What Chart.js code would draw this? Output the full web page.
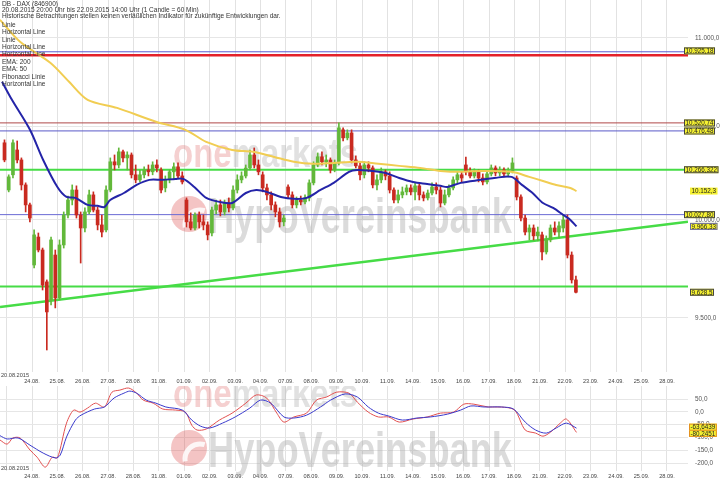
<!DOCTYPE html>
<html>
<head>
<meta charset="utf-8">
<script src="https://cdn.jsdelivr.net/npm/chart.js@4.4.0/dist/chart.umd.min.js"></script>
<style>
  body { margin: 0; background: #fff; }
  #wrap { position: relative; width: 720px; height: 481px; overflow: hidden; background: #fff; }
  #price { position: absolute; left: 0; top: 0; }
  #osc { position: absolute; left: 0; top: 386px; }
</style>
</head>
<body>
<div id="wrap">
  <canvas id="price" width="720" height="386"></canvas>
  <canvas id="osc" width="720" height="95"></canvas>
</div>
<script>
// trading days on the x axis, 24.08. sits at x = 0
const dayLabels = ['20.08.', '21.08.', '24.08.', '25.08.', '26.08.', '27.08.', '28.08.', '31.08.',
  '01.09.', '02.09.', '03.09.', '04.09.', '07.09.', '08.09.', '09.09.', '10.09.', '11.09.',
  '14.09.', '15.09.', '16.09.', '17.09.', '18.09.', '21.09.', '22.09.', '23.09.', '24.09.',
  '25.09.', '28.09.'];
const dayOffset = 2;
const slotsPerDay = 6;

// candles, one row per day (20.08. only has the evening candle)
const opens = [
  [null, null, null, null, null, 10412],
  [10158, 10239, 10373, 10319, 10185, 10079],
  [9767, 9911, 9844, 9681, 9590, 9818],
  [9600, 9870, 10026, 10105, 10158, 10026],
  [9958, 10042, 10132, 10052, 9974, 9948],
  [10158, 10309, 10292, 10363, 10330, 10346],
  [10239, 10212, 10239, 10265, 10255, 10292],
  [10265, 10169, 10212, 10255, 10282, 10233],
  [10105, 9990, 9958, 10026, 9990, 9974],
  [9932, 10052, 10079, 10042, 10089, 10063],
  [10158, 10212, 10233, 10276, 10346, 10292],
  [10239, 10169, 10132, 10079, 10042, 9990],
  [10174, 10132, 10079, 10105, 10095, 10116],
  [10196, 10292, 10336, 10309, 10319, 10265],
  [10303, 10483, 10439, 10466, 10319, 10287],
  [10239, 10292, 10276, 10185, 10212, 10255],
  [10233, 10158, 10105, 10132, 10148, 10169],
  [10148, 10180, 10132, 10116, 10142, 10174],
  [10158, 10089, 10132, 10169, 10212, 10239],
  [10292, 10255, 10233, 10255, 10222, 10201],
  [10244, 10276, 10249, 10265, 10244, 10260],
  [10222, 10121, 10010, 9937, 9958, 9917],
  [9922, 9834, 9896, 9958, 9937, 9958],
  [10000, 9818, 9691]
];
const highs = [
  [null, null, null, null, null, 10428],
  [10239, 10428, 10422, 10330, 10196, 10089],
  [9948, 9932, 9854, 9691, 9911, 9844],
  [9896, 10042, 10126, 10185, 10180, 10042],
  [10063, 10158, 10148, 10068, 10026, 10180],
  [10330, 10346, 10384, 10373, 10363, 10357],
  [10292, 10265, 10282, 10292, 10309, 10319],
  [10276, 10233, 10265, 10303, 10303, 10255],
  [10116, 10037, 10037, 10042, 10026, 9990],
  [10068, 10105, 10105, 10105, 10116, 10180],
  [10239, 10255, 10292, 10373, 10384, 10319],
  [10255, 10190, 10148, 10095, 10063, 10026],
  [10185, 10148, 10121, 10126, 10132, 10212],
  [10309, 10357, 10363, 10346, 10330, 10319],
  [10521, 10494, 10483, 10483, 10341, 10303],
  [10309, 10309, 10287, 10239, 10276, 10265],
  [10255, 10169, 10158, 10174, 10185, 10185],
  [10196, 10190, 10148, 10158, 10196, 10196],
  [10174, 10158, 10185, 10228, 10255, 10255],
  [10335, 10276, 10271, 10265, 10244, 10265],
  [10292, 10287, 10282, 10276, 10276, 10330],
  [10233, 10132, 10026, 9974, 9974, 9963],
  [9937, 9917, 9974, 9990, 9990, 10026],
  [10026, 9834, 9711]
];
const lows = [
  [null, null, null, null, null, 10309],
  [10148, 10222, 10303, 10158, 10042, 9990],
  [9752, 9834, 9640, 9342, 9565, 9550],
  [9590, 9854, 10010, 10079, 10010, 9777],
  [9937, 10031, 10042, 9948, 9911, 9937],
  [10148, 10265, 10276, 10309, 10265, 10222],
  [10196, 10201, 10222, 10233, 10239, 10255],
  [10142, 10148, 10196, 10217, 10222, 10190],
  [9963, 9948, 9948, 9958, 9948, 9896],
  [9917, 10031, 10021, 10026, 10042, 10052],
  [10142, 10196, 10222, 10265, 10276, 10239],
  [10148, 10105, 10052, 10016, 9963, 9969],
  [10116, 10063, 10063, 10079, 10084, 10100],
  [10185, 10282, 10292, 10282, 10249, 10255],
  [10292, 10422, 10428, 10303, 10276, 10212],
  [10222, 10255, 10169, 10158, 10196, 10212],
  [10142, 10089, 10089, 10116, 10132, 10132],
  [10105, 10105, 10100, 10105, 10132, 10137],
  [10068, 10079, 10121, 10158, 10196, 10201],
  [10239, 10222, 10222, 10201, 10185, 10190],
  [10233, 10233, 10233, 10228, 10228, 10249],
  [10105, 9995, 9922, 9896, 9896, 9891],
  [9793, 9823, 9886, 9922, 9906, 9937],
  [9803, 9675, 9625]
];
const closes = [
  [null, null, null, null, null, 10319],
  [10228, 10412, 10319, 10185, 10079, 10010],
  [9922, 9844, 9665, 9530, 9896, 9600],
  [9870, 10026, 10105, 10158, 10026, 9958],
  [10042, 10132, 10052, 9974, 9937, 10158],
  [10309, 10292, 10363, 10330, 10346, 10239],
  [10212, 10239, 10265, 10255, 10292, 10276],
  [10158, 10212, 10255, 10282, 10233, 10201],
  [9990, 9958, 10026, 9990, 9974, 9922],
  [10052, 10079, 10042, 10089, 10063, 10158],
  [10212, 10233, 10276, 10346, 10292, 10255],
  [10169, 10132, 10079, 10042, 9990, 10010],
  [10132, 10079, 10105, 10095, 10116, 10196],
  [10292, 10336, 10309, 10319, 10265, 10303],
  [10494, 10439, 10466, 10319, 10287, 10239],
  [10292, 10276, 10185, 10212, 10255, 10233],
  [10158, 10105, 10132, 10148, 10169, 10148],
  [10180, 10132, 10116, 10142, 10174, 10158],
  [10089, 10132, 10169, 10212, 10239, 10222],
  [10255, 10233, 10255, 10222, 10201, 10244],
  [10276, 10249, 10265, 10244, 10260, 10303],
  [10121, 10010, 9937, 9958, 9917, 9937],
  [9834, 9896, 9958, 9937, 9969, 10000],
  [9818, 9691, 9628.5]
];

// EMA 50 / EMA 200, x in trading days
const ema50X = [-1.18, -0.79, -0.08, 0.44, 1.0, 1.36, 1.71, 2.19, 2.58, 2.85, 3.08, 3.62, 4.12, 4.62,
  5.15, 5.65, 5.96, 6.39, 6.86, 7.38, 7.88, 8.42, 8.83, 9.24, 9.8, 10.31, 10.81, 11.36, 11.88,
  12.48, 12.81, 13.36, 13.92, 14.46, 15.0, 15.56, 16.08, 16.36, 16.88, 17.68, 18.2, 18.88, 19.29,
  19.71, 20.12, 20.52, 20.92, 21.2, 21.44];
const ema50 = [10750, 10649, 10483, 10319, 10174, 10121, 10116, 10079, 10074, 10068, 10105, 10142,
  10185, 10212, 10212, 10217, 10217, 10174, 10116, 10095, 10089, 10142, 10158, 10148, 10121, 10111,
  10116, 10158, 10196, 10255, 10265, 10260, 10249, 10222, 10201, 10190, 10180, 10174, 10196, 10212,
  10222, 10228, 10185, 10142, 10089, 10063, 10026, 10000, 9966.33];
const ema200X = [-1.26, -0.47, 0.72, 1.46, 2.19, 3.35, 4.88, 6.04, 6.86, 7.88, 8.71, 9.54, 10.31,
  11.08, 11.88, 12.81, 13.64, 14.46, 15.29, 16.08, 16.88, 17.68, 18.88, 19.58, 20.12, 20.64, 21.2, 21.44];
const ema200 = [11104, 10977, 10857, 10750, 10649, 10604, 10527, 10483, 10417, 10373, 10363, 10335,
  10309, 10298, 10303, 10309, 10298, 10287, 10276, 10260, 10255, 10260, 10255, 10228, 10206, 10185,
  10169, 10152.3];

// drawn lines
const hLineValues = [10920, 10900, 10521, 10477, 10266.32, 10027.8, 9658];
const trendY = [9555, 9990];

// value tags on the right
const tagValues = [10925.18, 10520.74, 10476.48, 10266.322, 10152.3, 10027.80, 9966.33, 9628.5];
const tagDecimals = [2, 2, 2, 3, 1, 2, 2, 1];

// oscillator panel
const oscBlueX = [-1.26, -0.98, -0.55, -0.08, 0.44, 0.92, 1.11, 1.36, 1.71, 1.93, 2.46, 2.85, 3.23,
  3.62, 3.85, 4.12, 4.5, 4.88, 5.27, 5.92, 6.29, 6.64, 7.0, 7.5, 8.0, 8.58, 9.0, 9.4, 9.92, 10.31,
  10.81, 11.36, 11.76, 12.33, 12.81, 13.24, 13.64, 14.04, 14.58, 15.16, 15.68, 16.36, 16.88, 17.28,
  17.8, 18.48, 18.96, 19.42, 19.83, 20.25, 20.64, 21.04, 21.44];
const oscBlue = [-93, -106, -102, -130, -161, -180, -169, -98, -32, -13, 11, 19, 54, 73, 81, 73, 46,
  34, 19, 7, -32, -56, -63, -44, -20, 15, 46, 34, -20, -24, -13, 19, 46, 70, 58, 19, -5, -16, -32,
  -24, -20, -9, 7, 23, 19, 19, 11, -40, -71, -83, -63, -44, -63.6439];
const oscRedX = [-1.26, -0.98, -0.75, -0.47, -0.08, 0.2, 0.52, 0.8, 1.0, 1.36, 1.64, 1.89, 2.19, 2.5,
  2.85, 3.15, 3.46, 3.81, 4.12, 4.38, 4.77, 5.15, 5.65, 6.04, 6.29, 6.5, 6.86, 7.38, 7.88, 8.42, 8.83,
  9.24, 9.64, 9.92, 10.31, 10.81, 11.2, 11.6, 12.0, 12.48, 12.81, 13.24, 13.64, 14.04, 14.46, 15.0,
  15.56, 16.08, 16.6, 17.0, 17.4, 17.96, 18.48, 19.0, 19.42, 19.83, 20.12, 20.42, 20.8, 21.04, 21.44];
const oscRed = [-110, -126, -102, -102, -149, -177, -216, -177, -180, -44, 7, -1, 15, 34, 19, 77, 85,
  93, 73, 46, 34, 11, 7, -1, -52, -71, -67, -32, -5, 34, 66, 54, -5, -40, -20, -5, 46, 58, 77, 73,
  38, -1, -20, -20, -40, -28, -20, -5, -1, 30, 30, 19, 19, 7, -71, -83, -95, -79, -44, -28, -80.2451];

const priceTicks = [9500, 10000, 10500, 11000];
const oscTicks = [50, 0, -50, -100, -150, -200];

const legendLines = ['DB - DAX (846900)',
  '20.08.2015 20:00 Uhr bis 22.09.2015 14:00 Uhr (1 Candle = 60 Min)',
  'Historische Betrachtungen stellen keinen verläßlichen Indikator für zukünftige Entwicklungen dar.',
  'Linie', 'Horizontal Line', 'Linie', 'Horizontal Line', 'Horizontal Line', 'EMA: 200', 'EMA: 50',
  'Fibonacci Linie', 'Horizontal Line'];

const xMin = -1.26, xMax = 25.83;
const FONT = '"Liberation Sans", Arial, sans-serif';
Chart.defaults.font.family = FONT;

function deNum(v, d) {
  const parts = Math.abs(v).toFixed(d).split('.');
  const intPart = parts[0].replace(/\B(?=(\d{3})+(?!\d))/g, '.');
  return (v < 0 ? '-' : '') + intPart + (d > 0 ? ',' + parts[1] : '');
}

function points(xs, ys) {
  return xs.map((x, i) => ({ x: x, y: ys[i] }));
}

const wickData = [], bodyData = [], candleColors = [];
for (let r = 0; r < opens.length; r++) {
  for (let j = 0; j < opens[r].length; j++) {
    if (opens[r][j] === null) continue;
    const x = r - dayOffset + (j + 0.5) / slotsPerDay;
    wickData.push({ x: x, y: [lows[r][j], highs[r][j]] });
    bodyData.push({ x: x, y: [opens[r][j], closes[r][j]] });
    candleColors.push(closes[r][j] >= opens[r][j] ? '#62b83a' : '#c92a20');
  }
}

const dayTicks = dayLabels.map((l, i) => i - dayOffset).filter(v => v >= -1);

function lineDs(data, color, width, order, tension) {
  return { type: 'line', data: data, borderColor: color, borderWidth: width, pointRadius: 0,
    fill: false, tension: tension || 0, order: order };
}

function xAxis(pad, height) {
  return {
    type: 'linear', min: xMin, max: xMax, offset: false, bounds: 'data',
    grid: { color: '#e2e2e2', drawTicks: false, offset: false },
    border: { display: false },
    afterBuildTicks: s => { s.ticks = dayTicks.map(v => ({ value: v })); },
    afterFit: s => { s.height = height; s.paddingLeft = 0; s.paddingRight = 0; },
    ticks: { autoSkip: false, maxRotation: 0, padding: pad, color: '#444', font: { size: 5.6 },
      callback: v => (v < 0 ? '' : dayLabels[v + dayOffset]) }
  };
}

function yAxis(type, min, max, tickList) {
  return {
    type: type, position: 'right', min: min, max: max, bounds: 'data',
    grid: { color: '#e6e6e6', drawTicks: false },
    border: { display: false },
    afterBuildTicks: s => { s.ticks = tickList.map(v => ({ value: v })); },
    afterFit: s => { s.width = 32; s.paddingTop = 0; s.paddingBottom = 0; },
    ticks: { padding: 7, color: '#555', font: { size: 6.4 }, callback: v => deNum(v, 1) }
  };
}

function drawWatermark(ctx, oneBase, hypoBase) {
  ctx.save();
  ctx.textBaseline = 'alphabetic';
  ctx.textAlign = 'left';
  ctx.font = 'bold 40px ' + FONT;
  const wOne = ctx.measureText('one').width;
  const wAll = ctx.measureText('onemarkets').width;
  ctx.translate(173, oneBase);
  ctx.scale(185 / wAll, 1);
  ctx.fillStyle = 'rgba(226,120,120,0.35)';
  ctx.fillText('one', 0, 0);
  ctx.fillStyle = 'rgba(170,170,170,0.35)';
  ctx.fillText('markets', wOne, 0);
  ctx.restore();

  ctx.save();
  ctx.font = 'bold 50px ' + FONT;
  const wHypo = ctx.measureText('HypoVereinsbank').width;
  ctx.translate(208, hypoBase);
  ctx.scale(304 / wHypo, 1);
  ctx.fillStyle = 'rgba(165,165,165,0.4)';
  ctx.fillText('HypoVereinsbank', 0, 0);
  ctx.restore();

  ctx.save();
  ctx.fillStyle = 'rgba(220,70,70,0.32)';
  ctx.beginPath();
  ctx.arc(189, hypoBase - 19, 18, 0, Math.PI * 2);
  ctx.fill();
  ctx.strokeStyle = 'rgba(255,255,255,0.85)';
  ctx.lineWidth = 5;
  ctx.beginPath();
  ctx.arc(200, hypoBase - 8, 15, Math.PI * 0.95, Math.PI * 1.6);
  ctx.stroke();
  ctx.restore();
}

function drawTag(ctx, text, y, left, border) {
  ctx.save();
  ctx.font = '6.3px ' + FONT;
  const w = ctx.measureText(text).width + 3;
  ctx.fillStyle = '#f6f232';
  ctx.fillRect(left, y - 3.5, w, 7);
  if (border) {
    ctx.strokeStyle = border;
    ctx.lineWidth = 1;
    ctx.strokeRect(left + 0.5, y - 3, w - 1, 6);
  }
  ctx.fillStyle = '#222';
  ctx.textBaseline = 'middle';
  ctx.textAlign = 'left';
  ctx.fillText(text, left + 1.5, y + 0.5);
  ctx.restore();
}

const tagLefts = [684, 684, 684, 684, 690, 684, 690, 690];
const tagBorders = ['#444', '#444', '#444', '#444', null, '#444', '#6a6aa8', '#444'];

const mainOverlay = {
  id: 'mainOverlay',
  beforeDatasetsDraw(chart) {
    drawWatermark(chart.ctx, 167, 233);
  },
  afterDraw(chart) {
    const ctx = chart.ctx;
    ctx.save();
    ctx.font = '6.5px ' + FONT;
    ctx.fillStyle = '#333';
    ctx.textBaseline = 'middle';
    ctx.textAlign = 'left';
    legendLines.forEach((t, k) => {
      ctx.fillText(t, 2, k < 3 ? 4 + k * 6.3 : 25 + (k - 3) * 7.4);
    });
    ctx.font = '5.6px ' + FONT;
    ctx.fillStyle = '#444';
    ctx.fillText('20.08.2015', 1, chart.chartArea.bottom + 3);
    ctx.restore();
    const ys = chart.scales.y;
    tagValues.forEach((v, k) => {
      drawTag(ctx, deNum(v, tagDecimals[k]), ys.getPixelForValue(v), tagLefts[k], tagBorders[k]);
    });
  }
};

const oscOverlay = {
  id: 'oscOverlay',
  beforeDatasetsDraw(chart) {
    drawWatermark(chart.ctx, 21, 81);
  },
  afterDraw(chart) {
    const ctx = chart.ctx;
    ctx.save();
    ctx.font = '5.6px ' + FONT;
    ctx.fillStyle = '#444';
    ctx.textBaseline = 'middle';
    ctx.fillText('20.08.2015', 1, chart.chartArea.bottom - 3);
    ctx.restore();
    const ys = chart.scales.y;
    const vRed = oscRed[oscRed.length - 1], vBlue = oscBlue[oscBlue.length - 1];
    drawTag(ctx, deNum(vRed, 4), ys.getPixelForValue(vRed) + 1, 689, '#e39020');
    drawTag(ctx, deNum(vBlue, 4), ys.getPixelForValue(vBlue) - 1, 689, '#e39020');
  }
};

const hLineColors = ['#5a5ad0', '#e4202a', '#b04848', '#5a5ac8', '#46dc46', '#6a6ad4', '#46dc46'];
const hLineWidths = [1, 2.5, 1, 1, 2, 1, 2];

const mainDatasets = hLineValues.map((v, k) =>
  lineDs([{ x: xMin, y: v }, { x: xMax, y: v }], hLineColors[k], hLineWidths[k], 4));
mainDatasets.push(lineDs(points([xMin, xMax], trendY), '#46dc46', 2.5, 4));
mainDatasets.push({ type: 'bar', data: wickData, backgroundColor: candleColors, barThickness: 1,
  grouped: false, borderWidth: 0, order: 3 });
mainDatasets.push({ type: 'bar', data: bodyData, backgroundColor: candleColors, barThickness: 3,
  grouped: false, borderWidth: 0, minBarLength: 1, order: 2 });
mainDatasets.push(lineDs(points(ema200X, ema200), '#f1cd52', 2, 1, 0.3));
mainDatasets.push(lineDs(points(ema50X, ema50), '#2424a8', 2, 0, 0.3));

new Chart(document.getElementById('price'), {
  type: 'bar',
  data: { datasets: mainDatasets },
  options: {
    responsive: false, animation: false, devicePixelRatio: 1, events: [],
    layout: { padding: 0 },
    plugins: { legend: { display: false }, tooltip: { enabled: false } },
    scales: { x: xAxis(6, 14), y: yAxis('logarithmic', 9235, 11220, priceTicks) }
  },
  plugins: [mainOverlay]
});

new Chart(document.getElementById('osc'), {
  type: 'line',
  data: { datasets: [
    lineDs(points(oscRedX, oscRed), '#e25050', 1, 1, 0.3),
    lineDs(points(oscBlueX, oscBlue), '#3a3acc', 1, 0, 0.3)
  ] },
  options: {
    responsive: false, animation: false, devicePixelRatio: 1, events: [],
    layout: { padding: 0 },
    plugins: { legend: { display: false }, tooltip: { enabled: false } },
    scales: { x: xAxis(2, 10), y: yAxis('linear', -231, 101, oscTicks) }
  },
  plugins: [oscOverlay]
});
</script>
</body>
</html>
